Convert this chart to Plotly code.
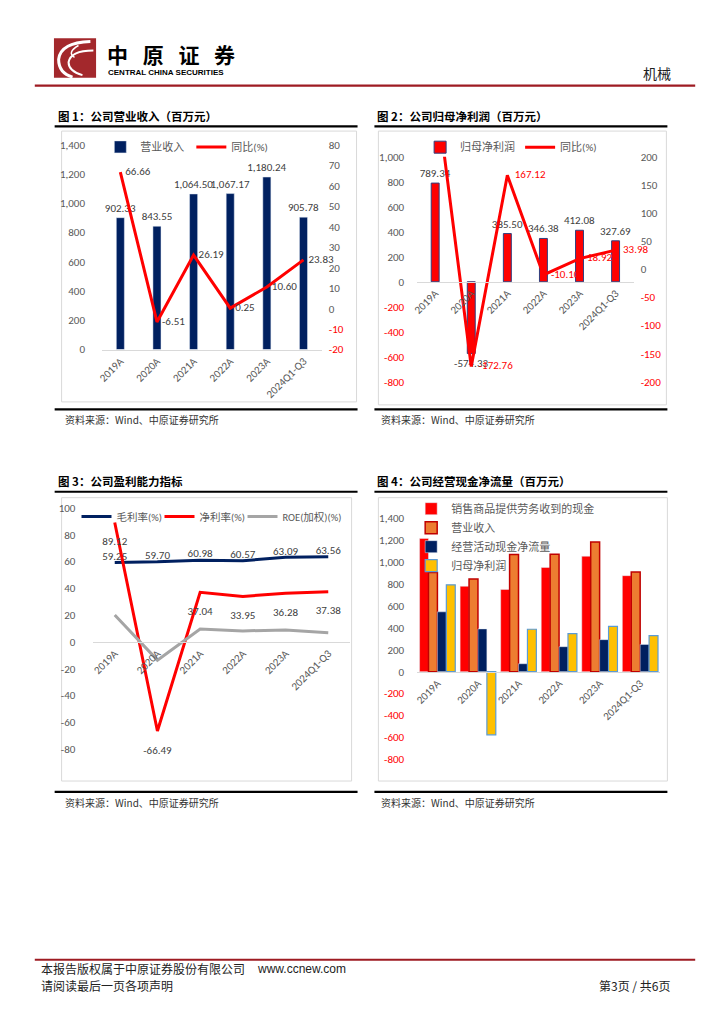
import plotly.graph_objects as go

W, H = 724, 1024


def X(px):
    return px / W


def Y(py):
    return 1 - py / H


# ---------------- data ----------------
categories = ["2019A", "2020A", "2021A", "2022A", "2023A", "2024Q1-Q3"]

revenue = [902.33, 843.55, 1064.50, 1067.17, 1180.24, 905.78]
revenue_yoy = [66.66, -6.51, 26.19, 0.25, 10.60, 23.83]

net_profit = [789.34, -574.33, 385.50, 346.38, 412.08, 327.69]
net_profit_yoy = [330.0, -172.76, 167.12, -10.10, 18.92, 33.98]  # 2019A value is off-scale (estimated)

gross_margin = [59.25, 59.70, 60.98, 60.57, 63.09, 63.56]
net_margin = [89.12, -66.49, 37.04, 33.95, 36.28, 37.38]
roe_weighted = [20.1, -13.6, 9.6, 8.2, 8.9, 6.9]

cash_from_sales = [1212, 777, 748, 948, 1050, 873]
op_cash_flow = [544, 389, 72, 227, 291, 248]

c1_left_ticks = [0, 200, 400, 600, 800, 1000, 1200, 1400]
c1_right_ticks = [-20, -10, 0, 10, 20, 30, 40, 50, 60, 70, 80]
c2_left_ticks = [-800, -600, -400, -200, 0, 200, 400, 600, 800, 1000]
c2_right_ticks = [-200, -150, -100, -50, 0, 50, 100, 150, 200]
c3_ticks = [-80, -60, -40, -20, 0, 20, 40, 60, 80, 100]
c4_ticks = [-800, -600, -400, -200, 0, 200, 400, 600, 800, 1000, 1200, 1400]

# ---------------- style ----------------
NAVY = "#002060"
RED = "#FF0000"
GRAY_LINE = "#A5A5A5"
ORANGE = "#ED7D31"
DARKRED = "#C00000"
GOLD = "#FFC000"
LIGHTBLUE = "#5B9BD5"
LABEL = "#404040"
TICK = "#595959"
AXIS = "#D9D9D9"
BRAND = "#9E1B22"
PAD = "\u00a0\u00a0"  # small gap between a point and its right-hand label
PAD2 = "\u00a0\u00a0\u00a0"

FONT_NUM = "Carlito, Lato, 'Noto Sans CJK SC', sans-serif"
FONT_CJK = "'Noto Sans CJK SC', sans-serif"


def tick_text(vals, red_negative=True):
    out = []
    for v in vals:
        s = f"{v:,}"
        if red_negative and v < 0:
            s = f'<span style="color:{RED}">{s}</span>'
        out.append(s)
    return out


fig = go.Figure()

# ---------------- chart 1 ----------------
fig.add_trace(go.Bar(
    name="营业收入", x=categories, y=revenue, xaxis="x", yaxis="y",
    marker=dict(color=NAVY), width=0.22,
    text=[f"{v:,.2f}" for v in revenue], textposition="outside",
    textfont=dict(size=11, color=LABEL, family=FONT_NUM),
    constraintext="none", cliponaxis=False, legend="legend", hoverinfo="skip"))
fig.add_trace(go.Scatter(
    name="同比(%)", x=categories, y=revenue_yoy, xaxis="x", yaxis="y2",
    mode="lines+text", line=dict(color=RED, width=3),
    text=[PAD + f"{v:.2f}" for v in revenue_yoy], textposition="middle right",
    textfont=dict(size=11, color=LABEL, family=FONT_NUM), cliponaxis=False,
    legend="legend", legendwidth=50, hoverinfo="skip"))

# ---------------- chart 2 ----------------
fig.add_trace(go.Bar(
    name="归母净利润", x=categories, y=net_profit, xaxis="x2", yaxis="y3",
    marker=dict(color=RED, line=dict(color="#2F3F7F", width=1)), width=0.22,
    text=[f"{v:,.2f}" for v in net_profit], textposition="outside",
    textfont=dict(size=11, color=LABEL, family=FONT_NUM),
    constraintext="none", cliponaxis=False, legend="legend2", hoverinfo="skip"))
fig.add_trace(go.Scatter(
    name="同比(%)", x=categories, y=net_profit_yoy, xaxis="x2", yaxis="y4",
    mode="lines", line=dict(color=RED, width=3),
    legend="legend2", legendwidth=50, hoverinfo="skip"))
# labels of the same series (the off-scale 2019A label is hidden, as in the source)
fig.add_trace(go.Scatter(
    name="同比(%)", x=categories[1:], y=net_profit_yoy[1:], xaxis="x2", yaxis="y4",
    mode="text", text=[PAD2 + f"{v:.2f}" for v in net_profit_yoy[1:]], textposition="middle right",
    textfont=dict(size=11, color=RED, family=FONT_NUM), cliponaxis=False,
    showlegend=False, legend="legend2", hoverinfo="skip"))

# ---------------- chart 3 ----------------
fig.add_trace(go.Scatter(
    name="毛利率(%)", x=categories, y=gross_margin, xaxis="x3", yaxis="y5",
    mode="lines+text", line=dict(color=NAVY, width=3),
    text=[f"{v:.2f}" for v in gross_margin], textposition="top center",
    textfont=dict(size=11, color=LABEL, family=FONT_NUM), cliponaxis=False,
    legend="legend3", hoverinfo="skip"))
fig.add_trace(go.Scatter(
    name="净利率(%)", x=categories, y=net_margin, xaxis="x3", yaxis="y5",
    mode="lines+text", line=dict(color=RED, width=3),
    text=["<br>" + f"{v:.2f}" for v in net_margin], textposition="bottom center",
    textfont=dict(size=11, color=LABEL, family=FONT_NUM), cliponaxis=False,
    legend="legend3", hoverinfo="skip"))
fig.add_trace(go.Scatter(
    name="ROE(加权)(%)", x=categories, y=roe_weighted, xaxis="x3", yaxis="y5",
    mode="lines", line=dict(color=GRAY_LINE, width=3), cliponaxis=False,
    legend="legend3", legendwidth=72, hoverinfo="skip"))

# ---------------- chart 4 ----------------
fig.add_trace(go.Bar(
    name="销售商品提供劳务收到的现金", x=categories, y=cash_from_sales, xaxis="x4", yaxis="y6",
    marker=dict(color=RED), legend="legend4", hoverinfo="skip"))
fig.add_trace(go.Bar(
    name="营业收入", x=categories, y=revenue, xaxis="x4", yaxis="y6",
    marker=dict(color=ORANGE, line=dict(color=DARKRED, width=1.5)), legend="legend4", hoverinfo="skip"))
fig.add_trace(go.Bar(
    name="经营活动现金净流量", x=categories, y=op_cash_flow, xaxis="x4", yaxis="y6",
    marker=dict(color=NAVY), legend="legend4", hoverinfo="skip"))
fig.add_trace(go.Bar(
    name="归母净利润", x=categories, y=net_profit, xaxis="x4", yaxis="y6",
    marker=dict(color=GOLD, line=dict(color=LIGHTBLUE, width=1.2)), legend="legend4", hoverinfo="skip"))

# ---------------- axes ----------------
cat_axis = dict(type="category", range=[-0.5, 5.5], showline=True, linecolor=AXIS, linewidth=1,
                ticks="", tickangle=-45, tickfont=dict(size=11, color=TICK, family=FONT_NUM),
                showgrid=False, zeroline=False, fixedrange=True)
val_axis = dict(showline=False, ticks="", showgrid=False, zeroline=False, fixedrange=True,
                tickfont=dict(size=11, color=TICK, family=FONT_NUM), ticklabelstandoff=6)

fig.update_layout(
    xaxis=dict(cat_axis, domain=[X(97.7), X(319)], anchor="y"),
    yaxis=dict(val_axis, domain=[Y(348), Y(140.7)], range=[0, 1400], ticklabelstandoff=16,
               tickvals=c1_left_ticks, ticktext=tick_text(c1_left_ticks), anchor="x"),
    yaxis2=dict(val_axis, overlaying="y", side="right", anchor="x", range=[-20, 80],
                tickvals=c1_right_ticks, ticktext=tick_text(c1_right_ticks)),
    xaxis2=dict(cat_axis, domain=[X(415), X(633)], anchor="free", position=Y(279.3)),
    yaxis3=dict(val_axis, domain=[Y(380.6), Y(152.7)], range=[-800, 1000], anchor="x2",
                ticklabelstandoff=12,
                tickvals=c2_left_ticks, ticktext=tick_text(c2_left_ticks)),
    yaxis4=dict(val_axis, overlaying="y3", side="right", anchor="x2", range=[-200, 200],
                tickvals=c2_right_ticks, ticktext=tick_text(c2_right_ticks)),
    xaxis3=dict(cat_axis, domain=[X(89), X(347)], anchor="free", position=Y(644)),
    yaxis5=dict(val_axis, domain=[Y(752.7), Y(508.3)], range=[-80, 100], anchor="x3",
                ticklabelstandoff=17,
                tickvals=c3_ticks, ticktext=tick_text(c3_ticks, red_negative=False)),
    xaxis4=dict(cat_axis, domain=[X(415), X(660)], anchor="free", position=Y(674.3)),
    yaxis6=dict(val_axis, domain=[Y(763.3), Y(518.3)], range=[-800, 1400], anchor="x4",
                ticklabelstandoff=12,
                tickvals=c4_ticks, ticktext=tick_text(c4_ticks)),
)

leg_common = dict(bgcolor="rgba(0,0,0,0)", font=dict(size=11, color=TICK, family=FONT_NUM),
                  itemclick=False, itemdoubleclick=False, xanchor="left", yanchor="middle")
fig.update_layout(
    legend=dict(leg_common, orientation="h", x=X(96), y=Y(142.7), entrywidth=46),
    legend2=dict(leg_common, orientation="h", x=X(418), y=Y(143), entrywidth=55),
    legend3=dict(leg_common, orientation="h", x=X(72), y=Y(517), entrywidth=38,
                 font=dict(size=10.5, color=TICK, family=FONT_NUM)),
    legend4=dict(leg_common, orientation="v", x=X(409), y=Y(538)),
)

# ---------------- page decoration ----------------
shapes = []


def hline(x0, x1, y, color, width):
    shapes.append(dict(type="line", xref="paper", yref="paper", x0=X(x0), x1=X(x1),
                       y0=Y(y), y1=Y(y), line=dict(color=color, width=width)))


def box(x0, y0, x1, y1):
    shapes.append(dict(type="rect", xref="paper", yref="paper", x0=X(x0), x1=X(x1),
                       y0=Y(y1), y1=Y(y0), line=dict(color=AXIS, width=1), layer="below"))


def pathq(points, color, width):
    # points: start, then (ctrl, end) pairs for quadratic curves, in page px
    (sx, sy) = points[0]
    d = f"M {X(sx):.5f},{Y(sy):.5f}"
    for (cx, cy), (ex, ey) in points[1:]:
        d += f" Q {X(cx):.5f},{Y(cy):.5f} {X(ex):.5f},{Y(ey):.5f}"
    shapes.append(dict(type="path", xref="paper", yref="paper", path=d,
                       line=dict(color=color, width=width)))


# logo
shapes.append(dict(type="rect", xref="paper", yref="paper", x0=X(49.3), x1=X(91.7),
                   y0=Y(72.7), y1=Y(32.7), fillcolor="#A3282C", line=dict(width=0)))
pathq([(86, 36), ((56, 37), (54, 54)), ((54, 68), (68, 72))], "white", 3)
pathq([(89, 45), ((66, 45), (64, 57)), ((64, 66), (78, 70))], "white", 2)
pathq([(74, 40), ((62, 47), (70, 52))], "white", 1.5)

hline(30, 695, 80.7, BRAND, 2.2)
hline(30, 695, 966, BRAND, 1.8)

# chart frames and rules
hline(50, 355, 122, "black", 2.2)
hline(372, 667, 122, "black", 2.2)
hline(50, 355, 408.5, "black", 2.2)
hline(372, 667, 408.5, "black", 2.2)
hline(50, 355, 492, "black", 2.2)
hline(372, 667, 492, "black", 2.2)
hline(50, 355, 796, "black", 2.2)
hline(372, 667, 796, "black", 2.2)
box(57, 126.7, 354, 401)
box(376, 126.7, 666, 404)
box(57, 498, 349, 785)
box(376, 498, 667, 785)

annotations = []


def text(x, y, s, size, color="black", family=FONT_CJK, xanchor="left", bold=False):
    annotations.append(dict(xref="paper", yref="paper", x=X(x), y=Y(y), text=s,
                            showarrow=False, xanchor=xanchor, yanchor="middle",
                            font=dict(size=size, color=color, family=family,
                                      weight="bold" if bold else "normal")))


SP = "\u2002\u2009"
text(101, 48.5, SP.join("中原证券"), 21, "black", bold=True)
text(102, 67, "CENTRAL CHINA SECURITIES", 8, "black", family="'Liberation Sans', sans-serif", bold=True)
text(673, 68, "机械", 14, "#222222", xanchor="right")

text(51, 111, "图 1：公司营业收入（百万元）", 11.5, bold=True)
text(373, 111, "图 2：公司归母净利润（百万元）", 11.5, bold=True)
text(51, 481, "图 3：公司盈利能力指标", 11.5, bold=True)
text(373, 481, "图 4：公司经营现金净流量（百万元）", 11.5, bold=True)

for sx, sy in [(58, 419), (377, 419), (58, 807), (377, 807)]:
    text(sx, sy, "资料来源：Wind、中原证券研究所", 10, "#333333")

text(34, 975, "本报告版权属于中原证券股份有限公司", 12, "#222222")
text(252, 975, "www.ccnew.com", 12, "#222222", family="'Liberation Sans', sans-serif")
text(34, 992, "请阅读最后一页各项声明", 12, "#222222")
text(672, 992, "第3页 / 共6页", 12, "#222222", xanchor="right")

fig.update_layout(
    width=W, height=H, margin=dict(l=0, r=0, t=0, b=0),
    paper_bgcolor="white", plot_bgcolor="rgba(0,0,0,0)",
    font=dict(family=FONT_NUM, color=TICK),
    barmode="group", bargap=0.12, bargroupgap=0,
    shapes=shapes, annotations=annotations,
    hovermode=False,
)

fig.write_html("out.html", config={"displayModeBar": False, "staticPlot": True},
               post_script="document.body.style.margin='0px';")
